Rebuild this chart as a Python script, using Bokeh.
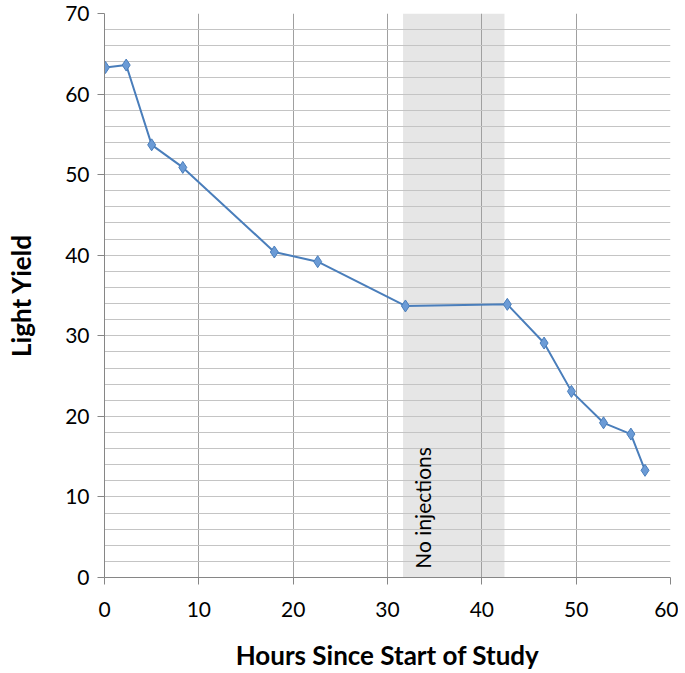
from bokeh.plotting import figure
from bokeh.models import BoxAnnotation, FixedTicker, Range1d, Label
from bokeh.embed import file_html
from bokeh.resources import INLINE

hours = [0.1, 2.3, 5.0, 8.3, 18.0, 22.6, 31.9, 42.7, 46.6, 49.5, 52.9, 55.8, 57.3]
light_yield = [63.3, 63.6, 53.7, 50.9, 40.4, 39.2, 33.7, 33.9, 29.1, 23.1, 19.2, 17.8, 13.3]
band_start, band_end = 31.65, 42.4
band_label = "No injections"
x_ticks = [0, 10, 20, 30, 40, 50, 60]
y_ticks = [0, 10, 20, 30, 40, 50, 60, 70]
y_grid = list(range(0, 72, 2))

FONT = "Lato"

p = figure(width=678, height=673, output_backend="svg", toolbar_location=None,
           x_range=Range1d(0, 60), y_range=Range1d(0, 70),
           min_border_left=104, min_border_top=13, min_border_right=8, min_border_bottom=96)
p.outline_line_color = None
p.background_fill_color = "white"

band = BoxAnnotation(left=band_start, right=band_end, fill_color="#e6e6e6", fill_alpha=1.0,
                     line_color=None, level="image")
p.add_layout(band)

p.xgrid.ticker = FixedTicker(ticks=x_ticks)
p.xgrid.grid_line_color = "#a0a0a0"
p.xgrid.grid_line_width = 1
p.ygrid.ticker = FixedTicker(ticks=y_grid)
p.ygrid.grid_line_color = "#c4c4c4"
p.ygrid.grid_line_width = 1

for ax in (p.xaxis, p.yaxis):
    ax.axis_line_color = "#868686"
    ax.major_tick_line_color = "#868686"
    ax.minor_tick_line_color = None
    ax.major_tick_in = 0
    ax.major_tick_out = 7
    ax.major_label_text_font = FONT
    ax.major_label_text_font_size = "21px"
    ax.major_label_text_color = "#000000"
    ax.axis_label_text_font = FONT
    ax.axis_label_text_font_style = "bold"
    ax.axis_label_text_font_size = "26px"
    ax.axis_label_text_color = "#000000"

p.xaxis.ticker = FixedTicker(ticks=x_ticks)
p.yaxis.ticker = FixedTicker(ticks=y_ticks)
p.xaxis.axis_label = "Hours Since Start of Study"
p.yaxis.axis_label = "Light Yield"
p.xaxis.major_label_standoff = 17
p.xaxis.axis_label_standoff = 19
p.yaxis.major_label_standoff = 8
p.yaxis.axis_label_standoff = 25

p.line(hours, light_yield, line_color="#4a7ebb", line_width=2)
p.scatter(hours, light_yield, marker="diamond", size=12, fill_color="#6b9bd6",
          line_color="#4a7ebb", line_width=1)

lbl = Label(x=33.7, y=1.1, text=band_label, angle=1.5708,
            text_font=FONT, text_font_size="21px", text_align="left",
            text_baseline="middle", text_color="#000000")
p.add_layout(lbl)

open("out.html", "w").write(file_html(p, INLINE))
